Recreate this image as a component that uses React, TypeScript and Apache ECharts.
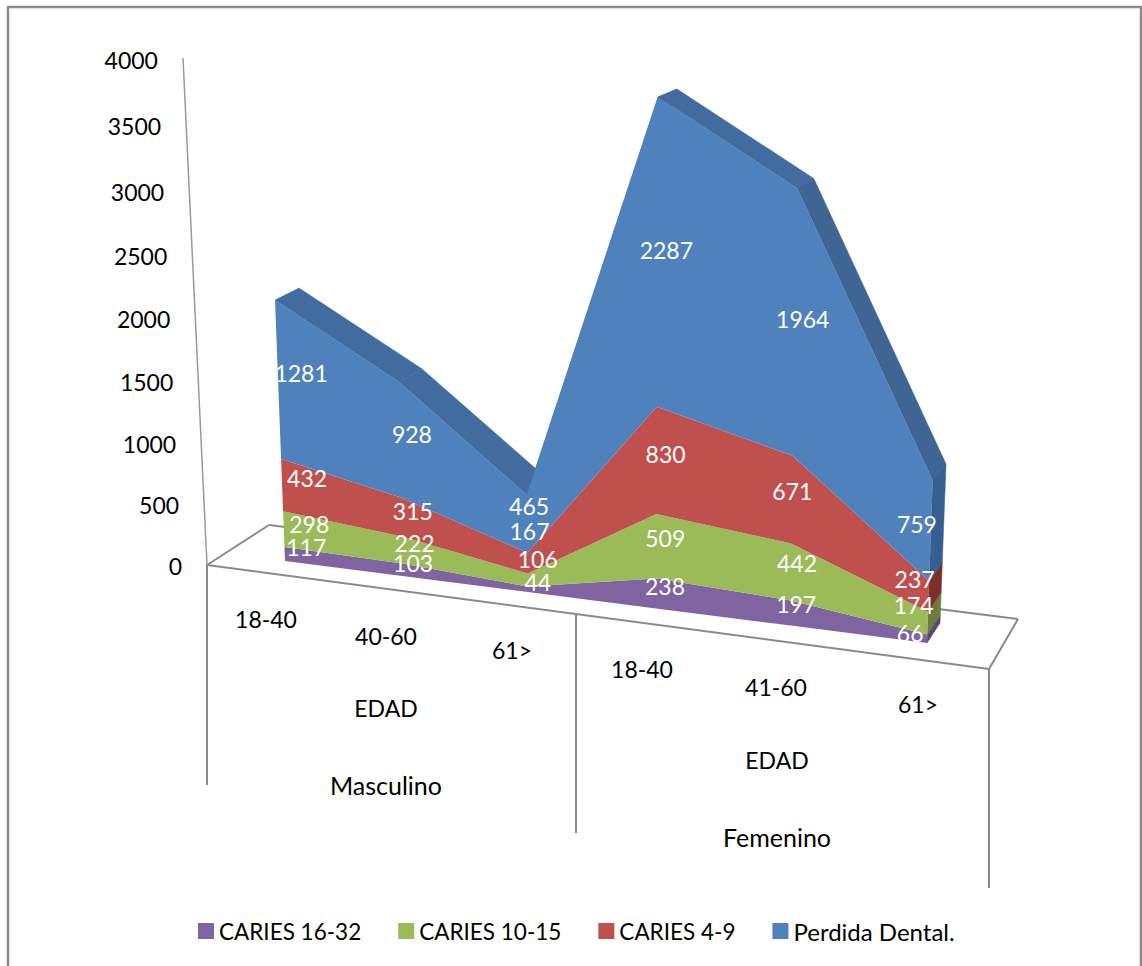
import React, { useEffect, useRef } from "react";
import * as echarts from "echarts";

// Stacked dental-health counts by sex and age band
const CATEGORIES = ["18-40", "40-60", "61>", "18-40", "41-60", "61>"];
const CARIES_16_32 = [117, 103, 44, 238, 197, 66];
const CARIES_10_15 = [298, 222, 106, 509, 442, 174];
const CARIES_4_9 = [432, 315, 167, 830, 671, 237];
const PERDIDA = [1281, 928, 465, 2287, 1964, 759];
const SERIES_NAMES = ["CARIES 16-32", "CARIES 10-15", "CARIES 4-9", "Perdida Dental."];
const SERIES_VALUES = [CARIES_16_32, CARIES_10_15, CARIES_4_9, PERDIDA];
const Y_TICKS = [0, 500, 1000, 1500, 2000, 2500, 3000, 3500, 4000];
const GROUP_LABELS = ["EDAD", "EDAD"];
const SEX_LABELS = ["Masculino", "Femenino"];

const FRONT_COLORS = ["#8064a2", "#9bbb59", "#c0504d", "#4f81bd"];
const SIDE_COLORS = ["#5c4579", "#6b7d3e", "#7b302e", "#365f91"];
const TOP_COLOR = "#426c9f";
const TOP_COLOR_LAST = "#3e6593";
const FONT = "Lato";
const TEXT_SIZE = 23;

// Running totals per layer: LOWER[s][i] .. UPPER[s][i]
const LOWER: number[][] = [];
const UPPER: number[][] = [];
SERIES_VALUES.forEach((vals, s) => {
  LOWER.push(vals.map((_, i) => (s === 0 ? 0 : UPPER[s - 1][i])));
  UPPER.push(vals.map((v, i) => LOWER[s][i] + v));
});
const TOTALS = UPPER[3];

// Hidden cartesian grid that supplies the scales; its pixels are then projected
const GRID = { left: 100, top: 100, width: 500, height: 400 };
const YMAX = 4000;
const gridPoint = (i: number, v: number): [number, number] => [
  GRID.left + (i / 5) * GRID.width,
  GRID.top + GRID.height * (1 - v / YMAX),
];

// Solves the plane homography that sends four source points to four targets
function homography(pairs: [[number, number], [number, number]][]) {
  const m: number[][] = [];
  pairs.forEach(([[x, y], [X, Y]]) => {
    m.push([x, y, 1, 0, 0, 0, -x * X, -y * X, X]);
    m.push([0, 0, 0, x, y, 1, -x * Y, -y * Y, Y]);
  });
  for (let c = 0; c < 8; c++) {
    let p = c;
    for (let r = c + 1; r < 8; r++) if (Math.abs(m[r][c]) > Math.abs(m[p][c])) p = r;
    [m[c], m[p]] = [m[p], m[c]];
    for (let r = 0; r < 8; r++) {
      if (r === c) continue;
      const f = m[r][c] / m[c][c];
      for (let k = c; k < 9; k++) m[r][k] -= f * m[c][k];
    }
  }
  const h = m.map((row, i) => row[8] / row[i]);
  return (p: number[]): [number, number] => {
    const w = h[6] * p[0] + h[7] * p[1] + 1;
    return [(h[0] * p[0] + h[1] * p[1] + h[2]) / w, (h[3] * p[0] + h[4] * p[1] + h[5]) / w];
  };
}

// Front and rear planes of the extruded area block
const toFront = homography([
  [gridPoint(0, 0), [285, 561]],
  [gridPoint(5, 0), [927, 643]],
  [gridPoint(0, 2128), [275, 300]],
  [gridPoint(3, 3864), [658, 97]],
]);
const toBack = homography([
  [gridPoint(0, 2128), [299, 288]],
  [gridPoint(3, 3864), [677, 89]],
  [gridPoint(5, 1236), [946, 464]],
  [gridPoint(5, 0), [940, 623]],
]);

// Value-axis tick position along the receding wall edge
const wallPoint = (py: number): [number, number] => {
  const t = (GRID.top + GRID.height - py) / GRID.height;
  const y = (565.5 - 508.08 * t) / (1 - 0.05019 * t);
  return [207 - (24 * (566 - y)) / 505 - 25, y];
};

// Nudges of each value label from the middle of its band [series][category]
const LABEL_NUDGE: [number, number][][] = [
  [[21.5, -7], [9, -6.5], [10, -7], [9, -7.5], [7, -9], [-17, -6]],
  [[25.5, -5], [11, -7.5], [10, -21], [9, -8], [7, -9], [-14, -18]],
  [[25, -7], [10, -6.5], [2, -32.5], [9, -7], [1, -9], [-14, -17]],
  [[23, -7], [11, -7], [2, -18], [9, -4], [8, -5], [-14, -7]],
];

const areaSeries = SERIES_NAMES.map((name, s) => ({
  type: "custom",
  name,
  coordinateSystem: "cartesian2d",
  clip: false,
  silent: true,
  z: 3,
  itemStyle: { color: FRONT_COLORS[s] },
  encode: { x: 0, y: 1 },
  data: SERIES_VALUES[s].map((_, i) => [i, UPPER[s][i]]),
  renderItem: (params: any, api: any) => {
    if (params.dataIndex !== 0) return null;
    const idx = CATEGORIES.map((_, i) => i);
    const top = idx.map((i) => toFront(api.coord([i, UPPER[s][i]])));
    const bottom = idx.reverse().map((i) => toFront(api.coord([i, LOWER[s][i]])));
    return {
      type: "polygon",
      shape: { points: [...top, ...bottom] },
      style: { fill: FRONT_COLORS[s] },
    };
  },
}));

// Extruded faces behind the front plane: the top ribbon and the right-hand end
const depthSeries = {
  type: "custom",
  coordinateSystem: "cartesian2d",
  clip: false,
  silent: true,
  z: 2,
  encode: { x: 0, y: 1 },
  data: TOTALS.map((t, i) => [i, t]),
  renderItem: (params: any, api: any) => {
    const i = params.dataIndex;
    const face = (a: number, av: number, b: number, bv: number, fill: string) => ({
      type: "polygon",
      shape: {
        points: [
          toFront(api.coord([a, av])),
          toBack(api.coord([a, av])),
          toBack(api.coord([b, bv])),
          toFront(api.coord([b, bv])),
        ],
      },
      style: { fill, stroke: fill, lineWidth: 0.5 },
    });
    if (i < 5) {
      return {
        type: "group",
        children: [face(i, TOTALS[i], i + 1, TOTALS[i + 1], i === 4 ? TOP_COLOR_LAST : TOP_COLOR)],
      };
    }
    return {
      type: "group",
      children: SERIES_VALUES.map((_, s) => face(5, LOWER[s][5], 5, UPPER[s][5], SIDE_COLORS[s])),
    };
  },
};

const valueLabelRows: number[][] = [];
SERIES_VALUES.forEach((vals, s) =>
  vals.forEach((v, i) => valueLabelRows.push([i, LOWER[s][i] + v / 2, v, s]))
);
const valueLabelSeries = {
  type: "custom",
  coordinateSystem: "cartesian2d",
  clip: false,
  silent: true,
  z: 5,
  encode: { x: 0, y: 1 },
  data: valueLabelRows,
  renderItem: (_: any, api: any) => {
    const i = api.value(0);
    const s = api.value(3);
    const [x, y] = toFront(api.coord([i, api.value(1)]));
    const [dx, dy] = LABEL_NUDGE[s][i];
    return {
      type: "text",
      x: x + dx,
      y: y + dy,
      style: {
        text: String(api.value(2)),
        align: "center",
        verticalAlign: "middle",
        fill: "#ffffff",
        fontSize: TEXT_SIZE,
        fontFamily: FONT,
      },
    };
  },
};

const tickLabelSeries = {
  type: "custom",
  coordinateSystem: "cartesian2d",
  clip: false,
  silent: true,
  z: 5,
  encode: { x: 0, y: 1 },
  data: Y_TICKS.map((t) => [0, t]),
  renderItem: (_: any, api: any) => {
    const v = api.value(1);
    const [x, y] = wallPoint(api.coord([0, v])[1]);
    return {
      type: "text",
      x,
      y,
      style: {
        text: String(v),
        align: "right",
        verticalAlign: "middle",
        fill: "#000000",
        fontSize: TEXT_SIZE,
        fontFamily: FONT,
      },
    };
  },
};

const AXIS_GRAY = "#8a8a8a";
const segment = (x1: number, y1: number, x2: number, y2: number, width = 2, color = AXIS_GRAY) => ({
  type: "line",
  silent: true,
  z: 0,
  shape: { x1, y1, x2, y2 },
  style: { stroke: color, lineWidth: width },
});
const label = (text: string, x: number, y: number, fontSize = TEXT_SIZE) => ({
  type: "text",
  silent: true,
  z: 1,
  x,
  y,
  style: {
    text,
    align: "center",
    verticalAlign: "middle",
    fill: "#000000",
    fontSize,
    fontFamily: FONT,
  },
});

const CATEGORY_LABEL_SPOTS = [
  [266, 619],
  [386, 636],
  [512, 650],
  [642, 669],
  [776, 687],
  [918, 704],
];

export default function App() {
  const ref = useRef<HTMLDivElement>(null);
  useEffect(() => {
    const chart = echarts.init(ref.current!, undefined, { renderer: "svg" });
    chart.setOption({
      animation: false,
      backgroundColor: "#ffffff",
      grid: { ...GRID, containLabel: false },
      xAxis: { type: "category", data: CATEGORIES, boundaryGap: false, show: false },
      yAxis: { type: "value", min: 0, max: YMAX, interval: 500, show: false },
      legend: {
        left: 198,
        top: 919,
        padding: 0,
        itemWidth: 16,
        itemHeight: 16,
        itemGap: 37,
        icon: "rect",
        selectedMode: false,
        formatter: (name: string) => (name === SERIES_NAMES[3] ? `{wide|${name}}` : name),
        textStyle: {
          fontSize: 22.5,
          fontFamily: FONT,
          color: "#000000",
          rich: { wide: { fontSize: 24, fontFamily: FONT, color: "#000000" } },
        },
        data: SERIES_NAMES,
      },
      graphic: [
        {
          type: "rect",
          silent: true,
          z: 0,
          shape: { x: 8, y: 7, width: 1133, height: 975 },
          style: { fill: "none", stroke: "#8a8a8a", lineWidth: 2.5 },
        },
        // Receding value axis and floor outline
        segment(183, 58, 207, 565, 1.5, "#9a9a9a"),
        segment(207, 565, 269, 525),
        segment(269, 525, 1018, 619),
        segment(1018, 619, 989, 669),
        segment(989, 669, 207, 565),
        // Group dividers under the floor
        segment(207, 565, 207, 785),
        segment(576, 615, 576, 833),
        segment(989, 669, 989, 888),
        ...CATEGORIES.map((c, i) => label(c, CATEGORY_LABEL_SPOTS[i][0], CATEGORY_LABEL_SPOTS[i][1])),
        label(GROUP_LABELS[0], 386, 708),
        label(GROUP_LABELS[1], 777, 760),
        label(SEX_LABELS[0], 386, 785, 25),
        label(SEX_LABELS[1], 777, 837, 25),
      ],
      series: [depthSeries, ...areaSeries, valueLabelSeries, tickLabelSeries],
    });
    return () => chart.dispose();
  }, []);
  return (
    <div
      ref={ref}
      style={{ position: "absolute", left: 0, top: 0, width: 1142, height: 966, overflow: "hidden" }}
    />
  );
}
